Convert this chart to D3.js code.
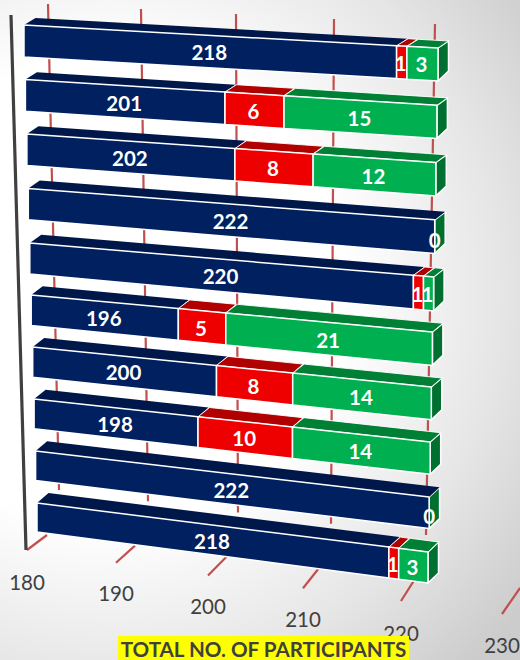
<!DOCTYPE html>
<html><head><meta charset="utf-8">
<script src="https://cdnjs.cloudflare.com/ajax/libs/d3/7.8.5/d3.min.js"></script>
<style>html,body{margin:0;padding:0;background:#fff}svg{display:block}text{font-family:Lato,sans-serif}</style>
</head><body><svg id="c" width="520" height="660"></svg>
<script>
// DATA
const navyValues  = [218,201,202,222,220,196,200,198,222,218];
const redValues   = [1,6,8,0,1,5,8,10,0,1];
const greenValues = [3,15,12,0,1,21,14,14,0,3];
const axisTicks   = [180,190,200,210,220,230];
const axisTitle   = "TOTAL NO. OF PARTICIPANTS";

const W=520,H=660;
const svg=d3.select("#c").attr("viewBox",[0,0,W,H]);
const defs=svg.append("defs");
const g=defs.append("radialGradient").attr("id","bg").attr("gradientUnits","userSpaceOnUse")
 .attr("cx",110).attr("cy",290).attr("r",520);
[[0.45,"#ffffff"],[0.75,"#e6e6e6"],[1,"#cccccc"]].forEach(s=>g.append("stop").attr("offset",s[0]).attr("stop-color",s[1]));
svg.append("rect").attr("width",W).attr("height",H).attr("fill","url(#bg)");

// perspective scales: value along a bar, and row index down the chart
const along=d3.scaleLinear().domain([180,190,200,210,220,222]).range([0,.225,.461,.70,.95,1]);
const rows=d3.range(navyValues.length);
const leftX=d3.scaleLinear().domain([0,9]).range([24,37]);
const rightX=d3.scaleLinear().domain([0,9]).range([438,428]);
const leftTop=d3.scaleLinear().domain([0,4,9]).range([25,243,503]);
const leftBot=d3.scaleLinear().domain([0,4,9]).range([57,274,532]);
const rightTop=d3.scaleLinear().domain([0,4,9]).range([48,277,552]);
const rightBot=d3.scaleLinear().domain([0,4,9]).range([81,311,583]);
const depthTop=d3.scaleLinear().domain([0,9]).range([-7,-10]);
const depthBot=-10, depthX=10.5;

function frontAt(r,t){
 return {x:leftX(r)+t*(rightX(r)-leftX(r)),
         top:leftTop(r)+t*(rightTop(r)-leftTop(r)),
         bot:leftBot(r)+t*(rightBot(r)-leftBot(r))};}
const front=(r,v)=>frontAt(r,along(v));

// back wall gridlines and floor ticks
const wallTopX=d3.scaleLinear().domain([180,190,200,210,220]).range([48,141,236,334,435]);
const wallTopY=d3.scaleLinear().domain([180,220]).range([4,24]);
const wallBotX=d3.scaleLinear().domain([180,190,200,210,220]).range([59,148,238,331,426]);
const wallBotY=d3.scaleLinear().domain([180,220]).range([490,535]);
const floorInX=d3.scaleLinear().domain([180,190,200,210,220,230]).range([47,135,227,320,416,520]);
const floorInY=d3.scaleLinear().domain([180,230]).range([535,588]);
const floorOutX=d3.scaleLinear().domain([180,190,200,210,220,230]).range([27,116,208,303,401,502]);
const floorOutY=d3.scaleLinear().domain([180,220,230]).range([550,601,614]);
const labelX=d3.scaleLinear().domain([180,190,200,210,220,230]).range([27,116,208,303,401,502]);
const labelY=d3.scaleLinear().domain([180,190,200,210,220,230]).range([583,594,607,620,634,646]);
const gridColor="#c0504d";
svg.append("g").selectAll("line").data(axisTicks.slice(0,5)).join("line")
 .attr("x1",wallTopX).attr("y1",wallTopY).attr("x2",wallBotX).attr("y2",wallBotY)
 .attr("stroke",gridColor).attr("stroke-width",2.2);
svg.append("g").selectAll("line").data(axisTicks).join("line")
 .attr("x1",floorInX).attr("y1",floorInY).attr("x2",floorOutX).attr("y2",floorOutY)
 .attr("stroke",gridColor).attr("stroke-width",2.2);
svg.append("line").attr("x1",11).attr("y1",15).attr("x2",26).attr("y2",550)
 .attr("stroke","#404040").attr("stroke-width",3.2);

svg.append("g").selectAll("text").data(axisTicks).join("text")
 .attr("x",labelX).attr("y",labelY).attr("dy","0.36em").attr("text-anchor","middle")
 .attr("font-size",20.5).attr("fill","#404040").text(d=>d);

// bars
const palette={navy:["#002060","#00174a"],red:["#ee0000","#b00000"],green:["#00b050","#008034"]};
const sideColor="#007030";
const pt=(x,y)=>x.toFixed(1)+","+y.toFixed(1);
const barG=svg.append("g");
rows.forEach(r=>{
 const n=navyValues[r],red=redValues[r],gr=greenValues[r];
 const segs=[["navy",180,n],["red",n,n+red],["green",n+red,n+red+gr]].filter(s=>s[2]>s[1]);
 const end=222;
 const row=barG.append("g");
 const dyT=depthTop(r);
 const e=front(r,end);
 row.append("polygon").attr("points",[pt(e.x,e.top),pt(e.x+depthX,e.top+dyT),pt(e.x+depthX,e.bot+depthBot),pt(e.x,e.bot)].join(" "))
   .attr("fill",sideColor).attr("stroke","#fff").attr("stroke-width",1.5).attr("stroke-linejoin","round");
 segs.forEach(s=>{
   const a=front(r,s[1]),b=front(r,s[2]),c=palette[s[0]];
   row.append("polygon").attr("points",[pt(a.x,a.top),pt(a.x+depthX+1,a.top+dyT),pt(b.x+depthX,b.top+dyT),pt(b.x,b.top)].join(" "))
     .attr("fill",c[1]).attr("stroke",s[0]==="navy"?"none":"#fff").attr("stroke-width",.9);
 });
 segs.forEach(s=>{
   const a=front(r,s[1]),b=front(r,s[2]),c=palette[s[0]];
   row.append("polygon").attr("points",[pt(a.x,a.top),pt(b.x,b.top),pt(b.x,b.bot),pt(a.x,a.bot)].join(" "))
     .attr("fill",c[0]).attr("stroke","#fff").attr("stroke-width",1.5).attr("stroke-linejoin","round");
 });
 const lab=(v0,v1,txt,dx,dy)=>{
   const m=frontAt(r,(along(v0)+along(v1))/2);
   row.append("text").attr("x",m.x-1+(dx||0)).attr("y",(m.top+m.bot)/2+1.5+(dy||0)).attr("dy","0.36em")
     .attr("text-anchor","middle").attr("font-size",20.5).attr("font-weight",700).attr("fill","#fff").text(txt);
 };
 lab(180,n,n);
 if(red>0)lab(n,n+red,red);
 if(gr>0)lab(n+red,n+red+gr,gr);
 if(red===0&&gr===0)lab(end,end,0,1,2.5);
});

// axis title
svg.append("rect").attr("x",118).attr("y",636).attr("width",291).attr("height",24).attr("fill","#ffff00");
svg.append("text").attr("x",263.5).attr("y",656.5).attr("text-anchor","middle").attr("font-size",20.6).attr("font-weight",700)
 .attr("fill","#404040").text(axisTitle);
</script></body></html>
